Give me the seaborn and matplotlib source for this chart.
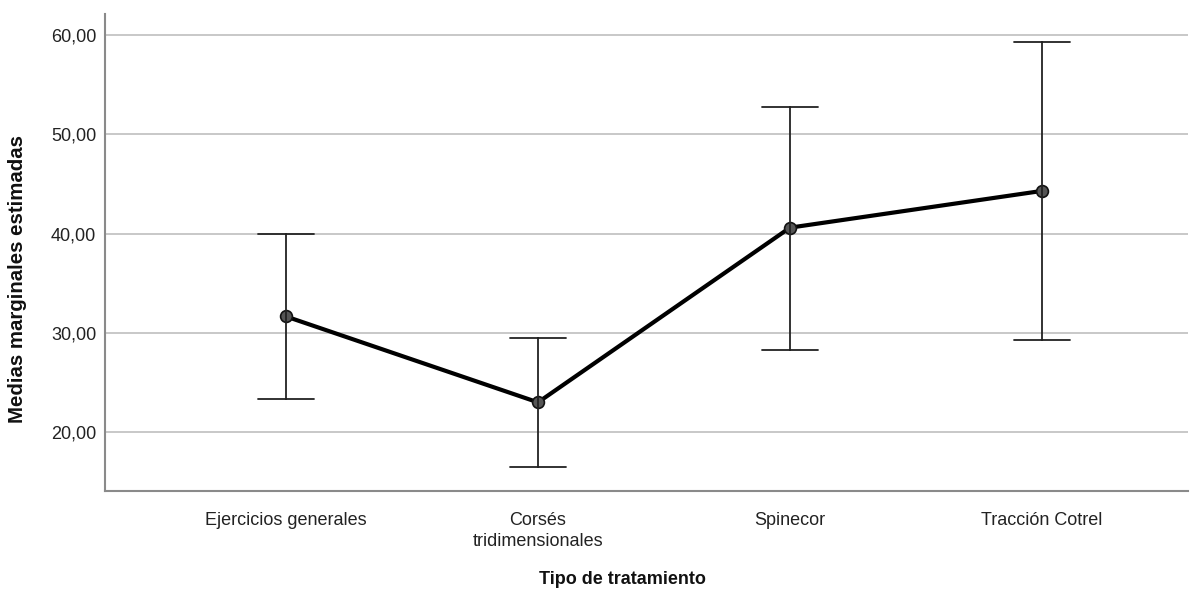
import matplotlib
matplotlib.use("Agg")
import matplotlib.pyplot as plt
import pandas as pd
import seaborn as sns

categories = ["Ejercicios generales", "Corsés\ntridimensionales", "Spinecor", "Tracción Cotrel"]
means = [31.65, 23.0, 40.6, 44.3]
lower = [23.3, 16.5, 28.25, 29.3]
upper = [40.0, 29.5, 52.8, 59.3]
yticks = [20, 30, 40, 50, 60]

# one row per bound so the median is the mean and min/max the interval
rows = []
for cat, lo, m, hi in zip(categories, lower, means, upper):
    for v in (lo, m, hi):
        rows.append({"tratamiento": cat, "valor": v})
df = pd.DataFrame(rows)

sns.set_style("white")
plt.rcParams["font.family"] = ["Liberation Sans", "DejaVu Sans"]

fig = plt.figure(figsize=(11.91, 5.93), dpi=100)
ax = fig.add_axes([0.0879, 0.1725, 0.9096, 0.8035])

sns.pointplot(data=df, x="tratamiento", y="valor", estimator="median",
              errorbar=lambda v: (v.min(), v.max()), capsize=0.22,
              color="black", linewidth=3.0, markers="o", markersize=8.5,
              err_kws={"linewidth": 1.3, "color": "#222222"}, ax=ax, zorder=3)

for ln in ax.lines:
    if ln.get_marker() == "o":
        ln.set_markerfacecolor("#555555")
        ln.set_markeredgecolor("#111111")
        ln.set_markeredgewidth(1.2)

ax.set_xlim(-0.72, 3.58)
ax.set_ylim(14.1, 62.1)
ax.set_yticks(yticks)
ax.set_yticklabels([f"{t},00" for t in yticks], fontsize=13, color="#222222")
ax.tick_params(axis="x", labelsize=13, colors="#222222", length=0, pad=15)
ax.tick_params(axis="y", length=0, pad=6)
for lab in ax.get_xticklabels():
    lab.set_linespacing(1.35)

ax.grid(axis="y", color="#c8c8c8", linewidth=1.4)
ax.set_axisbelow(True)
for side in ("top", "right"):
    ax.spines[side].set_visible(False)
for side in ("left", "bottom"):
    ax.spines[side].set_color("#8a8a8a")
    ax.spines[side].set_linewidth(1.5)

ax.set_xlabel("")
ax.set_ylabel("")
fig.text(622 / 1191, 1 - 580 / 593, "Tipo de tratamiento", ha="center", va="center",
         fontsize=13, fontweight="bold", color="#111111")
fig.text(18 / 1191, 1 - 279 / 593, "Medias marginales estimadas", ha="center", va="center",
         rotation=90, fontsize=14.7, fontweight="bold", color="#111111")

fig.savefig("out.png", dpi=100)
